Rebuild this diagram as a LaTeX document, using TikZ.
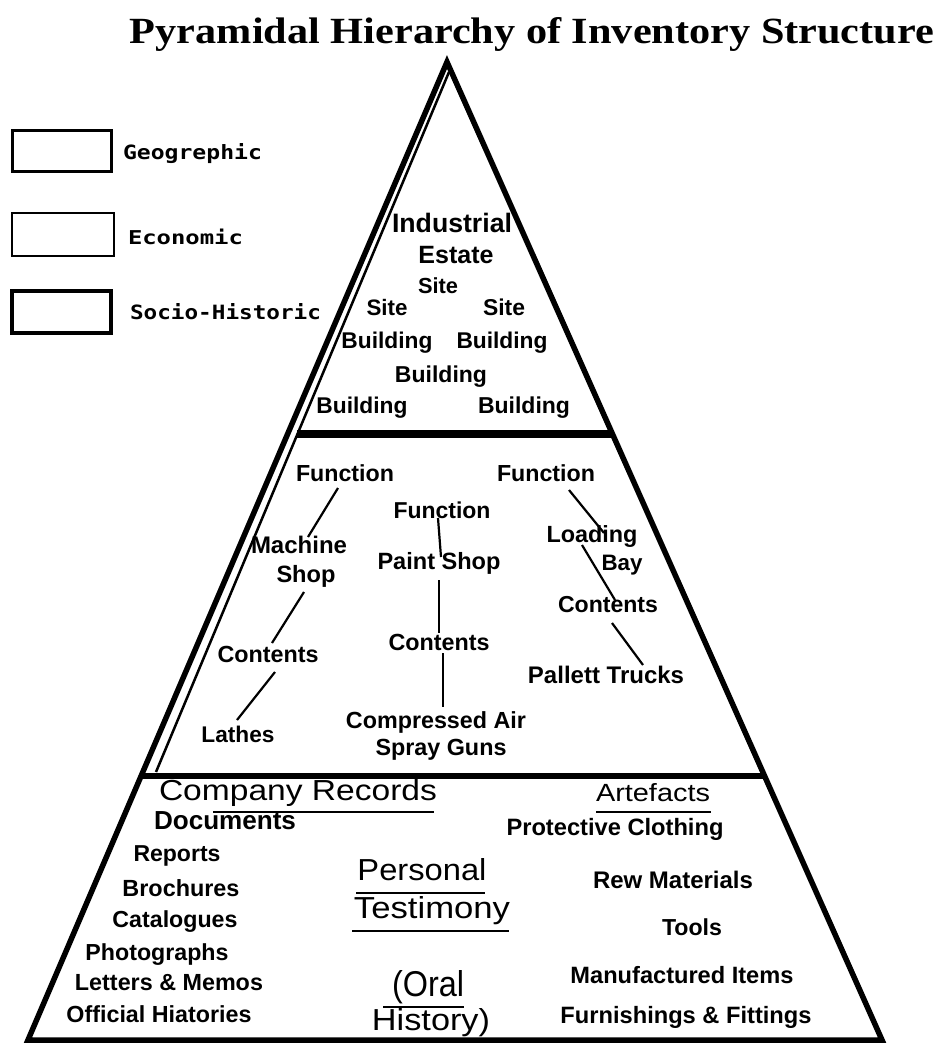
\documentclass[tikz,border=0pt]{standalone}
\usepackage{fontspec}
\usepackage{graphicx}
\setmainfont{Liberation Sans}
\newfontfamily\titlefont{Liberation Serif}
\newfontfamily\legfont{DejaVu Sans Mono}
\newfontfamily\headfont{Liberation Sans}
\newcommand{\fitb}[2]{\resizebox{#1pt}{!}{\bfseries #2}}
\newcommand{\fith}[3]{\resizebox{#1pt}{#2pt}{\headfont #3}}
\begin{document}
\begin{tikzpicture}[x=1pt,y=-1pt,
  tb/.style={anchor=base,inner sep=0pt,outer sep=0pt},
  leg/.style={anchor=base west,inner sep=0pt,outer sep=0pt},
  legbox/.style={draw,rectangle,inner sep=0pt,minimum width=99pt,minimum height=41pt},
  conn/.style={line width=2.2pt},
  ul/.style={line width=2pt},
  edge/.style={line width=5.5pt,line join=miter}]
\useasboundingbox (0,0) rectangle (937,1043);
% title
\node[tb] (title) at (532,44) {\resizebox{804pt}{26pt}{\titlefont\bfseries Pyramidal Hierarchy of Inventory Structure}};
% legend
\node[legbox,line width=3pt] (geobox) at (61.5,151.5) {};
\node[legbox,line width=2pt,minimum width=102pt,minimum height=43pt] (ecobox) at (63,234.5) {};
\node[legbox,line width=4pt,minimum height=42pt] (socbox) at (61.5,312) {};
\node[leg] (geo) at (123,160) {\resizebox{139pt}{16pt}{\legfont\bfseries Geogrephic}};
\node[leg] (eco) at (128,244) {\resizebox{115pt}{15.5pt}{\legfont\bfseries Economic}};
\node[leg] (soc) at (130,319) {\resizebox{191pt}{16pt}{\legfont\bfseries Socio-Historic}};
% pyramid
\coordinate (apex) at (447,62);
\coordinate (bl) at (28,1040);
\coordinate (br) at (882,1040);
\coordinate (apexin) at (449,72);
\coordinate (inlow) at (156,772);
\draw[edge] (apex) -- (br) -- (bl) -- cycle;
\draw[line width=2.5pt] (apexin) -- (inlow);
\coordinate (d1l) at (297,434);
\coordinate (d1r) at (613,434);
\coordinate (d2l) at (141,776);
\coordinate (d2r) at (765,776);
\draw[line width=8pt] (d1l) -- (d1r);
\draw[line width=6pt] (d2l) -- (d2r);
% top section
\node[tb] (ind) at (452,232) {\fitb{120}{Industrial}};
\node[tb] (est) at (456,263) {\fitb{75}{Estate}};
\node[tb] (sitem) at (438,293) {\fitb{40}{Site}};
\node[tb] (sitel) at (387,315) {\fitb{41}{Site}};
\node[tb] (siter) at (504,315) {\fitb{42}{Site}};
\node[tb] (bldl) at (387,348) {\fitb{91}{Building}};
\node[tb] (bldr) at (502,348) {\fitb{91}{Building}};
\node[tb] (bldm) at (441,382) {\fitb{92}{Building}};
\node[tb] (bldbl) at (362,413) {\fitb{91}{Building}};
\node[tb] (bldbr) at (524,413) {\fitb{92}{Building}};
% middle section
\node[tb] (funl) at (345,481) {\fitb{98}{Function}};
\node[tb] (funr) at (546,481) {\fitb{98}{Function}};
\node[tb] (funm) at (442,518) {\fitb{97}{Function}};
\node[tb] (mach) at (299,553) {\fitb{96}{Machine}};
\node[tb] (shop) at (306,582) {\fitb{59}{Shop}};
\node[tb] (paint) at (439,569) {\fitb{123}{Paint Shop}};
\node[tb] (load) at (592,542) {\fitb{91}{Loading}};
\node[tb] (bay) at (622,570) {\fitb{41}{Bay}};
\node[tb] (contr) at (608,612) {\fitb{100}{Contents}};
\node[tb] (contm) at (439,650) {\fitb{101}{Contents}};
\node[tb] (contl) at (268,662) {\fitb{101}{Contents}};
\node[tb] (pall) at (606,683) {\fitb{156}{Pallett Trucks}};
\node[tb] (lath) at (238,742) {\fitb{73}{Lathes}};
\node[tb] (comp) at (436,728) {\fitb{180}{Compressed Air}};
\node[tb] (spray) at (441,755) {\fitb{131}{Spray Guns}};
% connectors
\coordinate (l1a) at (338,488); \coordinate (l1b) at (308,537);
\coordinate (l2a) at (304,592); \coordinate (l2b) at (272,643);
\coordinate (l3a) at (275,672); \coordinate (l3b) at (237,720);
\coordinate (m1a) at (438,518); \coordinate (m1b) at (441,557);
\coordinate (m2a) at (439,580); \coordinate (m2b) at (439,633);
\coordinate (m3a) at (443,653); \coordinate (m3b) at (443,707);
\coordinate (r1a) at (569,490); \coordinate (r1b) at (604,533);
\coordinate (r2a) at (582,545); \coordinate (r2b) at (615,600);
\coordinate (r3a) at (612,623); \coordinate (r3b) at (643,665);
\draw[conn] (l1a) -- (l1b);
\draw[conn] (l2a) -- (l2b);
\draw[conn] (l3a) -- (l3b);
\draw[conn] (m1a) -- (m1b);
\draw[conn] (m2a) -- (m2b);
\draw[conn] (m3a) -- (m3b);
\draw[conn] (r1a) -- (r1b);
\draw[conn] (r2a) -- (r2b);
\draw[conn] (r3a) -- (r3b);
% bottom section
\node[tb] (crec) at (298,800) {\fith{278}{21}{Company Records}};
\node[tb] (art) at (653,801) {\fith{114}{18}{Artefacts}};
\node[tb] (docs) at (225,829) {\fitb{142}{Documents}};
\node[tb] (prot) at (615,835) {\fitb{217}{Protective Clothing}};
\node[tb] (rep) at (177,861) {\fitb{87}{Reports}};
\node[tb] (bro) at (181,896) {\fitb{117}{Brochures}};
\node[tb] (cat) at (175,927) {\fitb{125}{Catalogues}};
\node[tb] (pho) at (157,960) {\fitb{143}{Photographs}};
\node[tb] (let) at (169,990) {\fitb{188}{Letters \& Memos}};
\node[tb] (off) at (159,1022) {\fitb{185}{Official Hiatories}};
\node[tb] (pers) at (422,880) {\fith{129}{22}{Personal}};
\node[tb] (test) at (432,918) {\fith{156}{22}{Testimony}};
\node[tb] (oral) at (428,996) {\fith{72}{26}{(Oral}};
\node[tb] (hist) at (431,1030) {\fith{118}{22}{History)}};
\node[tb] (rew) at (673,888) {\fitb{160}{Rew Materials}};
\node[tb] (tools) at (692,935) {\fitb{60}{Tools}};
\node[tb] (manu) at (682,983) {\fitb{223}{Manufactured Items}};
\node[tb] (furn) at (686,1023) {\fitb{251}{Furnishings \& Fittings}};
% underlines
\coordinate (u1a) at (213,812); \coordinate (u1b) at (434,812);
\coordinate (u2a) at (596,812); \coordinate (u2b) at (711,812);
\coordinate (u3a) at (356,893); \coordinate (u3b) at (485,893);
\coordinate (u4a) at (352,931); \coordinate (u4b) at (509,931);
\coordinate (u5a) at (383,1007); \coordinate (u5b) at (464,1007);
\draw[ul] (u1a) -- (u1b);
\draw[ul] (u2a) -- (u2b);
\draw[ul] (u3a) -- (u3b);
\draw[ul] (u4a) -- (u4b);
\draw[ul] (u5a) -- (u5b);
\end{tikzpicture}
\end{document}
